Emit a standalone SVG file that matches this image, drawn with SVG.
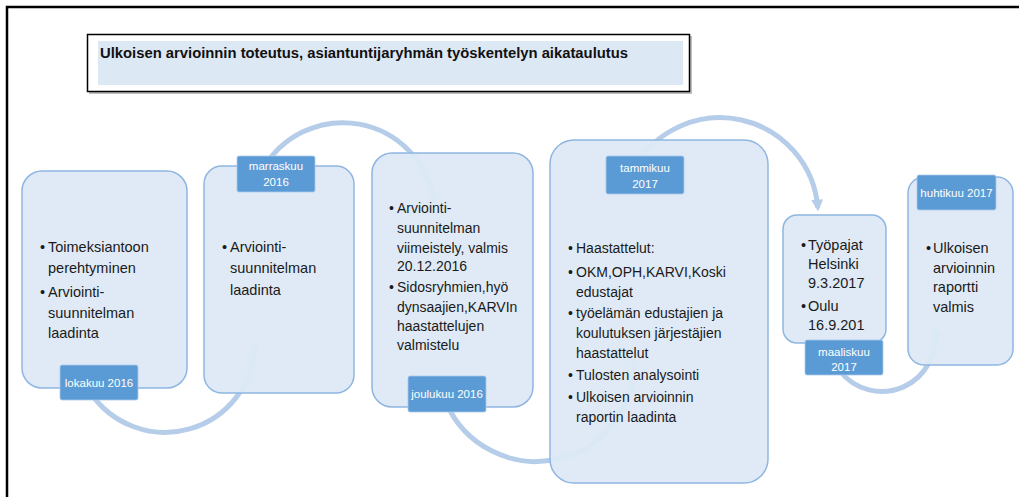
<svg xmlns="http://www.w3.org/2000/svg" width="1019" height="497" viewBox="0 0 1019 497">
<style>
.box{fill:#dde9f6;fill-opacity:0.95;stroke:#8fb6e1;stroke-width:1.5}
.lab{fill:#5b9bd5;stroke:#a9c8ea;stroke-width:0.8}
.lt{font-family:"Liberation Sans",Arial,sans-serif;font-size:11.5px;fill:#ffffff;text-anchor:middle}
.t{font-family:"Liberation Sans",Arial,sans-serif;font-size:14.5px;fill:#1a1a1a}
.t2{font-family:"Liberation Sans",Arial,sans-serif;font-size:14px;fill:#1a1a1a}
.arc{fill:none;stroke:#b6cde9;stroke-width:5}
</style>
<defs>
<marker id="ah" viewBox="0 0 10 10" refX="7" refY="5" markerWidth="12" markerHeight="12" markerUnits="userSpaceOnUse" orient="auto">
<path d="M0,0 L10,5 L0,10 z" fill="#b6cde9"/>
</marker>
</defs>
<rect x="0" y="0" width="1019" height="497" fill="#ffffff"/>
<rect x="7" y="7" width="1030" height="520" fill="none" stroke="#000" stroke-width="2.5"/>
<g id="title">
<rect x="89" y="36" width="603" height="58" fill="#bdbdbd"/>
<rect x="87.5" y="34.5" width="602" height="57" fill="#ffffff" stroke="#000" stroke-width="1.5"/>
<rect x="98" y="41" width="585" height="44" fill="#dde8f5"/>
<text x="100" y="58" font-family="'Liberation Sans',Arial,sans-serif" font-size="14" font-weight="bold" fill="#111" textLength="528" lengthAdjust="spacingAndGlyphs">Ulkoisen arvioinnin toteutus, asiantuntijaryhmän työskentelyn aikataulutus</text>
</g>
<g id="connectors">
<path class="arc" d="M 90 392 A 90 90 0 0 0 255 345" marker-end="url(#ah)"/>
<path class="arc" d="M 262 171 A 92 92 0 0 1 434 201.5" marker-end="url(#ah)"/>
<path class="arc" d="M 445 400 A 98 98 0 0 0 633 350" marker-end="url(#ah)"/>
<path class="arc" d="M 635 167 A 98 98 0 0 1 817.8 208" marker-end="url(#ah)"/>
<path class="arc" d="M 840 371 A 53 53 0 0 0 934 329" marker-end="url(#ah)"/>
</g>
<g id="node1">
<rect class="box" x="22" y="171" width="165" height="217" rx="20"/>
<text class="t" x="40" y="252">•</text>
<text class="t" x="48" y="252">Toimeksiantoon</text>
<text class="t" x="48" y="273">perehtyminen</text>
<text class="t" x="40" y="297">•</text>
<text class="t" x="48" y="297">Arviointi-</text>
<text class="t" x="48" y="318">suunnitelman</text>
<text class="t" x="48" y="338">laadinta</text>
<rect class="lab" x="60" y="365" width="78" height="35" rx="2"/>
<text class="lt" x="99" y="387">lokakuu 2016</text>
</g>
<g id="node2">
<rect class="box" x="204" y="166" width="150" height="227" rx="18"/>
<text class="t" x="222" y="252">•</text>
<text class="t" x="230" y="252">Arviointi-</text>
<text class="t" x="230" y="273">suunnitelman</text>
<text class="t" x="230" y="295">laadinta</text>
<rect class="lab" x="237" y="156" width="78" height="36" rx="2"/>
<text class="lt" x="276" y="170">marraskuu</text>
<text class="lt" x="276" y="186">2016</text>
</g>
<g id="node3">
<rect class="box" x="372" y="153" width="161" height="254" rx="20"/>
<text class="t2" x="389" y="213">•</text>
<text class="t2" x="397" y="213">Arviointi-</text>
<text class="t2" x="397" y="233">suunnitelman</text>
<text class="t2" x="397" y="253">viimeistely, valmis</text>
<text class="t2" x="397" y="271">20.12.2016</text>
<text class="t2" x="389" y="292">•</text>
<text class="t2" x="397" y="292">Sidosryhmien,hyö</text>
<text class="t2" x="397" y="312">dynsaajien,KARVIn</text>
<text class="t2" x="397" y="331">haastattelujen</text>
<text class="t2" x="397" y="350">valmistelu</text>
<rect class="lab" x="408" y="376" width="78" height="36" rx="2"/>
<text class="lt" x="447" y="398">joulukuu 2016</text>
</g>
<g id="node4">
<rect class="box" x="550" y="140" width="218" height="343" rx="24"/>
<text class="t2" x="568" y="253">•</text>
<text class="t2" x="576" y="253">Haastattelut:</text>
<text class="t2" x="568" y="277">•</text>
<text class="t2" x="576" y="277">OKM,OPH,KARVI,Koski</text>
<text class="t2" x="576" y="297">edustajat</text>
<text class="t2" x="568" y="318">•</text>
<text class="t2" x="576" y="318">työelämän edustajien ja</text>
<text class="t2" x="576" y="338">koulutuksen järjestäjien</text>
<text class="t2" x="576" y="358">haastattelut</text>
<text class="t2" x="568" y="380">•</text>
<text class="t2" x="576" y="380">Tulosten analysointi</text>
<text class="t2" x="568" y="402">•</text>
<text class="t2" x="576" y="402">Ulkoisen arvioinnin</text>
<text class="t2" x="576" y="422">raportin laadinta</text>
<rect class="lab" x="606" y="156" width="78" height="38" rx="2"/>
<text class="lt" x="645" y="172">tammikuu</text>
<text class="lt" x="645" y="188">2017</text>
</g>
<g id="node5">
<rect class="box" x="783" y="215" width="103" height="128" rx="14"/>
<text class="t" x="801" y="250">•</text>
<text class="t" x="808" y="250">Työpajat</text>
<text class="t" x="808" y="269">Helsinki</text>
<text class="t" x="808" y="288">9.3.2017</text>
<text class="t" x="801" y="311">•</text>
<text class="t" x="808" y="311">Oulu</text>
<text class="t" x="808" y="330">16.9.201</text>
<rect class="lab" x="805" y="340" width="78" height="35" rx="2"/>
<text class="lt" x="844" y="356">maaliskuu</text>
<text class="lt" x="844" y="371">2017</text>
</g>
<g id="node6">
<rect class="box" x="908" y="177" width="105" height="188" rx="16"/>
<text class="t" x="926" y="253">•</text>
<text class="t" x="933" y="253">Ulkoisen</text>
<text class="t" x="933" y="273">arvioinnin</text>
<text class="t" x="933" y="292">raportti</text>
<text class="t" x="933" y="312">valmis</text>
<rect class="lab" x="917" y="175" width="79" height="35" rx="2"/>
<text class="lt" x="956.5" y="197">huhtikuu 2017</text>
</g>
</svg>
